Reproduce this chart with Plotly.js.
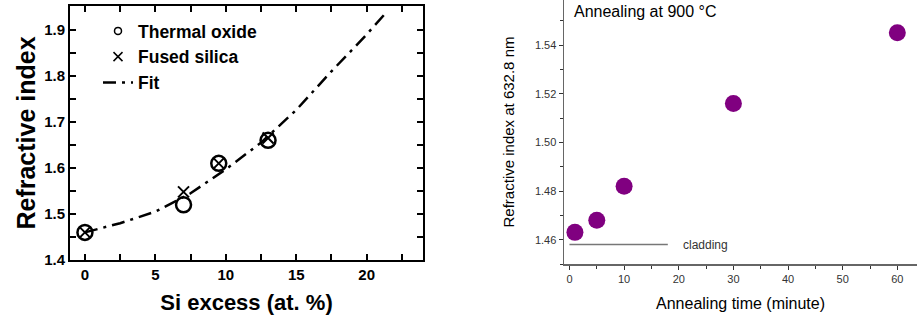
<!DOCTYPE html>
<html>
<head>
<meta charset="utf-8">
<script src="https://cdn.plot.ly/plotly-3.0.1.min.js"></script>
<style>html,body{margin:0;padding:0;background:#fff;}#chart{width:917px;height:322px;}</style>
</head>
<body>
<div id="chart"></div>
<script>
// Left panel: refractive index vs Si excess
const thermalX = [0, 7, 9.5, 13];
const thermalY = [1.46, 1.52, 1.61, 1.66];
const fusedX = [0, 7, 9.5, 13];
const fusedY = [1.46, 1.548, 1.61, 1.665];
const fitX = [0, 2.5, 5, 7.5, 10, 12.5, 15, 17.5, 20, 21.3];
const fitY = [1.46, 1.48, 1.505, 1.545, 1.597, 1.655, 1.726, 1.81, 1.89, 1.935];
const leftXTicks = [0, 5, 10, 15, 20];
const leftYTicks = [1.4, 1.5, 1.6, 1.7, 1.8, 1.9];

// Right panel: refractive index vs annealing time
const annealTime = [1, 5, 10, 30, 60];
const annealIndex = [1.463, 1.468, 1.482, 1.516, 1.545];
const claddingX = [0, 18];
const claddingY = [1.458, 1.458];
const rightXTicks = [0, 10, 20, 30, 40, 50, 60];
const rightYTicks = [1.46, 1.48, 1.50, 1.52, 1.54];

const W = 917, H = 322;
const bold = 'Liberation Sans, Arial, sans-serif';

const traces = [
  {x: fitX, y: fitY, xaxis: 'x', yaxis: 'y', mode: 'lines', name: 'Fit', showlegend: false,
   line: {color: '#000', width: 2.5, dash: '13px,6px,3px,6px'}},
  {x: thermalX, y: thermalY, xaxis: 'x', yaxis: 'y', mode: 'markers', name: 'Thermal oxide', showlegend: false,
   marker: {symbol: 'circle-open', size: 15, color: '#000', line: {width: 2.5, color: '#000'}}},
  {x: fusedX, y: fusedY, xaxis: 'x', yaxis: 'y', mode: 'markers', name: 'Fused silica', showlegend: false,
   marker: {symbol: 'x-thin-open', size: 11, color: '#000', line: {width: 2, color: '#000'}}},
  // legend entries
  {x: [null], y: [null], xaxis: 'x', yaxis: 'y', mode: 'markers', name: 'Thermal oxide',
   marker: {symbol: 'circle-open', size: 7, color: '#000', line: {width: 1.5, color: '#000'}}},
  {x: [null], y: [null], xaxis: 'x', yaxis: 'y', mode: 'markers', name: 'Fused silica',
   marker: {symbol: 'x-thin-open', size: 9, color: '#000', line: {width: 1.5, color: '#000'}}},
  {x: [null], y: [null], xaxis: 'x', yaxis: 'y', mode: 'lines', name: 'Fit',
   line: {color: '#000', width: 2.5, dash: '13px,6px,3px,6px'}},
  // right panel
  {x: claddingX, y: claddingY, xaxis: 'x2', yaxis: 'y2', mode: 'lines', showlegend: false,
   line: {color: '#777', width: 1.5}},
  {x: annealTime, y: annealIndex, xaxis: 'x2', yaxis: 'y2', mode: 'markers', showlegend: false,
   marker: {symbol: 'circle', size: 17, color: '#800080'}}
];

const layout = {
  width: W, height: H,
  margin: {l: 0, r: 0, t: 0, b: 0},
  paper_bgcolor: '#fff', plot_bgcolor: 'rgba(0,0,0,0)',
  font: {family: bold, color: '#000'},
  showlegend: true,
  legend: {x: 98 / W, y: 1 - 13 / H, xanchor: 'left', yanchor: 'top',
    bgcolor: 'rgba(0,0,0,0)', font: {size: 17.5, family: bold, weight: 'bold', color: '#000'},
    itemsizing: 'trace', tracegroupgap: 0},
  xaxis: {domain: [70 / W, 423 / W], range: [-1.06, 24.0], anchor: 'y',
    tickvals: leftXTicks, ticktext: leftXTicks.map(String),
    ticks: 'inside', ticklen: 6, tickwidth: 2, tickcolor: '#000',
    minor: {tickvals: [2.5, 7.5, 12.5, 17.5, 22.5], ticks: 'inside', ticklen: 6, tickwidth: 2, tickcolor: '#000'},
    showline: true, linecolor: '#000', linewidth: 2, mirror: 'ticks',
    showgrid: false, zeroline: false,
    tickfont: {size: 15, family: bold, weight: 'bold', color: '#000'},
    title: {text: 'Si excess (at. %)', font: {size: 22, family: bold, weight: 'bold', color: '#000'}, standoff: 13}},
  yaxis: {domain: [1 - 260 / H, 1 - 6 / H], range: [1.4, 1.952], anchor: 'x',
    tickvals: leftYTicks, ticktext: leftYTicks.map(v => v.toFixed(1)),
    ticks: 'inside', ticklen: 6, tickwidth: 2, tickcolor: '#000',
    minor: {tickvals: [1.45, 1.55, 1.65, 1.75, 1.85], ticks: 'inside', ticklen: 6, tickwidth: 2, tickcolor: '#000'},
    showline: true, linecolor: '#000', linewidth: 2, mirror: 'ticks',
    showgrid: false, zeroline: false,
    tickfont: {size: 15, family: bold, weight: 'bold', color: '#000'},
    title: {text: 'Refractive index', font: {size: 25, family: bold, weight: 'bold', color: '#000'}, standoff: 1}},
  xaxis2: {domain: [564 / W, 1], range: [-1.0, 63.6], anchor: 'y2',
    tickvals: rightXTicks, ticktext: rightXTicks.map(String),
    ticks: 'outside', ticklen: 4, tickwidth: 1, tickcolor: '#333',
    minor: {tickvals: [5, 15, 25, 35, 45, 55], ticks: 'outside', ticklen: 3, tickwidth: 1, tickcolor: '#333'},
    showline: true, linecolor: '#666', linewidth: 1.5,
    showgrid: false, zeroline: false,
    tickfont: {size: 11, family: bold, color: '#333'},
    title: {text: 'Annealing time (minute)', font: {size: 16, family: bold, color: '#000'}, standoff: 14}},
  yaxis2: {domain: [1 - 264 / H, 1], range: [1.45, 1.5585], anchor: 'x2',
    tickvals: rightYTicks, ticktext: rightYTicks.map(v => v.toFixed(2)),
    ticks: 'outside', ticklen: 4, tickwidth: 1, tickcolor: '#333',
    minor: {tickvals: [1.45, 1.47, 1.49, 1.51, 1.53, 1.55], ticks: 'outside', ticklen: 3, tickwidth: 1, tickcolor: '#333'},
    showline: true, linecolor: '#666', linewidth: 1.5,
    showgrid: false, zeroline: false,
    tickfont: {size: 11, family: bold, color: '#333'},
    title: {text: 'Refractive index at 632.8 nm', font: {size: 15, family: bold, color: '#000'}, standoff: 16}},
  annotations: [
    {xref: 'x2', yref: 'y2', x: 20.5, y: 1.458, text: 'cladding', showarrow: false,
     xanchor: 'left', yanchor: 'middle', font: {size: 12, family: bold, color: '#333'}},
    {xref: 'paper', yref: 'paper', x: 572 / W, y: 1 - 11 / H, text: 'Annealing at 900 °C', showarrow: false,
     xanchor: 'left', yanchor: 'middle', font: {size: 16, family: bold, color: '#000'}}
  ]
};

Plotly.newPlot('chart', traces, layout, {displayModeBar: false, staticPlot: true});
</script>
</body>
</html>
